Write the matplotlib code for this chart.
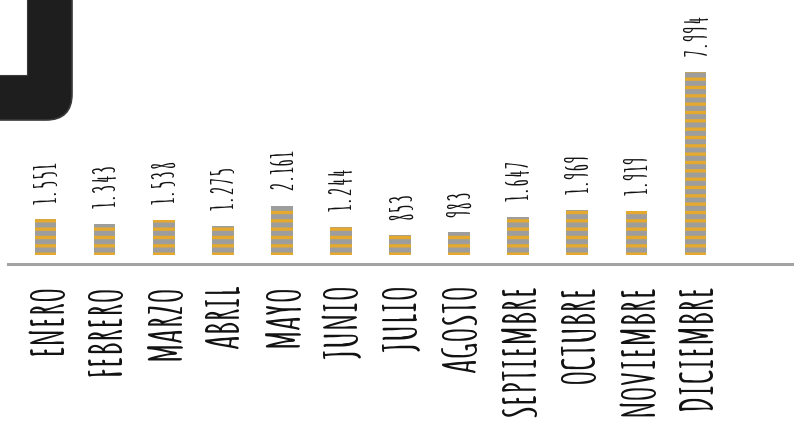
import matplotlib
matplotlib.use("Agg")
import matplotlib.pyplot as plt
from matplotlib import transforms
from matplotlib.patches import FancyBboxPatch, Rectangle

months = ["ENERO", "FEBRERO", "MARZO", "ABRIL", "MAYO", "JUNIO", "JULIO",
          "AGOSTO", "SEPTIEMBRE", "OCTUBRE", "NOVIEMBRE", "DICIEMBRE"]
values = [1551, 1343, 1538, 1275, 2161, 1244, 853, 983, 1647, 1969, 1919, 7994]

FONT = ["Amatic SC", "DejaVu Sans"]
BAR_GREY = "#9d9d9d"
BAR_YELLOW = "#e6a92f"

plt.rcParams["hatch.linewidth"] = 2.4

W, H = 794, 421
fig = plt.figure(figsize=(W / 100, H / 100), dpi=100)

# decorative dark rounded corner (top-left)
px = transforms.IdentityTransform()
outer = FancyBboxPatch((-80, H - 120), 152, 200,
                       boxstyle="round,pad=0,rounding_size=26",
                       fc="#1e1e1e", ec="#3a3a3a", lw=1.2, transform=px)
inner = Rectangle((-80, H - 75), 107, 120, fc="white", ec="#3a3a3a", lw=0.8, transform=px)
fig.add_artist(outer)
fig.add_artist(inner)

ax = fig.add_axes([8 / W, (H - 264) / H, 786 / W, 264 / H])
x = list(range(len(months)))
bars = ax.bar(x, values, width=0.37, color=BAR_GREY, edgecolor=BAR_YELLOW,
              hatch="--", linewidth=0)

ax.set_xlim(-0.634, 12.666)
ax.set_ylim(-393, 11139)

for xi, v in zip(x, values):
    ax.annotate(f"{v:,}".replace(",", "."), (xi, v), xytext=(0, 11.5),
                textcoords="offset points", rotation=90, ha="center", va="bottom",
                family=FONT, fontweight="bold", fontsize=21, color="#111111")

ax.set_xticks(x)
ax.set_xticklabels(months, rotation=90, ha="center", va="top",
                   family=FONT, fontweight="bold", fontsize=32, color="#111111")
ax.tick_params(axis="x", length=0, pad=14)
ax.set_yticks([])
for s in ["top", "left", "right"]:
    ax.spines[s].set_visible(False)
ax.spines["bottom"].set_color("#a3a3a3")
ax.spines["bottom"].set_linewidth(2.2)
ax.patch.set_alpha(0)

fig.savefig("out.png", dpi=100)
